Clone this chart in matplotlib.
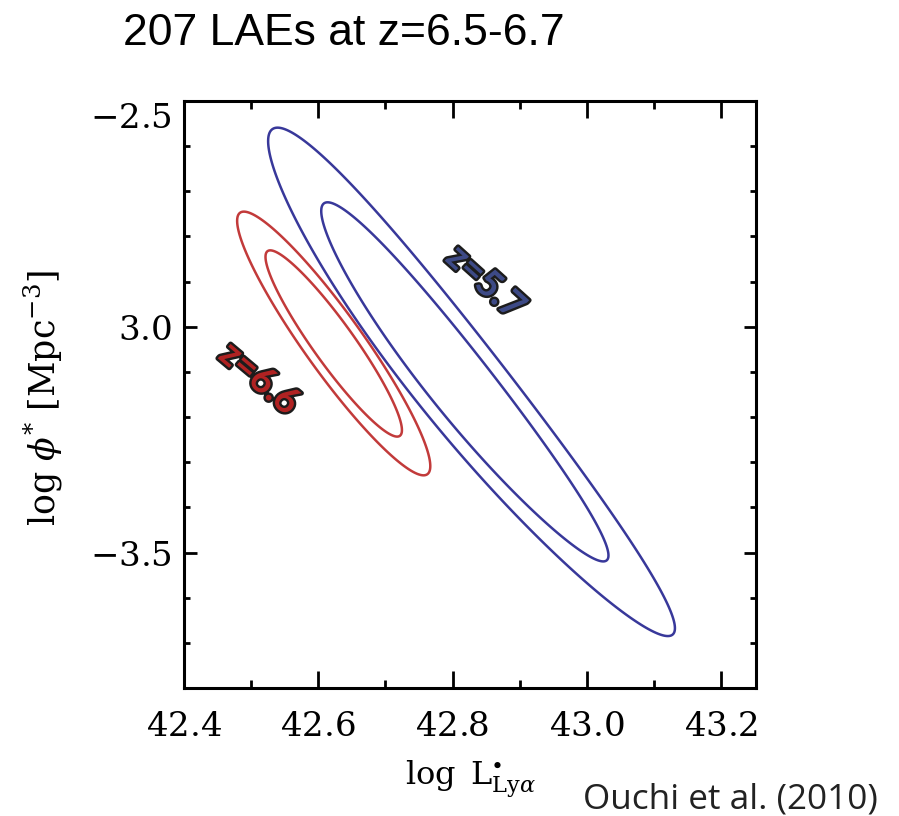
import numpy as np
import matplotlib
matplotlib.use('Agg')
import matplotlib.pyplot as plt
import matplotlib.patheffects as pe
import matplotlib.transforms as mtrans
from matplotlib.ticker import FixedLocator, MultipleLocator, FixedFormatter

plt.rcParams['mathtext.fontset'] = 'dejavuserif'

# ---------------- data ----------------
x_ticks = [42.4, 42.6, 42.8, 43.0, 43.2]
x_tick_labels = [r'$42.4$', r'$42.6$', r'$42.8$', r'$43.0$', r'$43.2$']
y_ticks = [-2.5, -3.0, -3.5]
y_tick_labels = [r'$-2.5$', r'$3.0$', r'$-3.5$']

samples = ['z=5.7', 'z=6.6']
center_logL = [42.830, 42.623]
center_logphi = [-3.122, -3.037]
sigma_logL = [0.1410, 0.0670]
sigma_logphi = [0.2622, 0.1360]
rho = [-0.96, -0.93]
bend_logL = [-0.0216, 0.0]          # curvature of the confidence region
conf_levels = [2.30, 4.61]          # delta chi^2: 68% and 90%
label_logL = [42.849, 42.512]
label_logphi = [-2.902, -3.115]
label_angle = [-42, -40]

line_colors = ['#38389a', '#c23a3a']
label_fill = ['#3d4a86', '#b02222']

# ---------------- figure ----------------
fig = plt.figure(figsize=(8.99, 8.16), dpi=100)
ax = fig.add_axes([184/899, (816-688)/816, (756-184)/899, (688-101)/816])

gx = np.linspace(42.3, 43.35, 800)
gy = np.linspace(-3.95, -2.35, 800)
GX, GY = np.meshgrid(gx, gy)
for i in range(len(samples)):
    ry = sigma_logphi[i] * np.sqrt(conf_levels[-1])
    shift = bend_logL[i] * (1 - ((GY - center_logphi[i]) / ry) ** 2)
    dx = (GX - shift - center_logL[i]) / sigma_logL[i]
    dy = (GY - center_logphi[i]) / sigma_logphi[i]
    r = rho[i]
    chi2 = (dx**2 - 2*r*dx*dy + dy**2) / (1 - r**2)
    ax.contour(GX, GY, chi2, levels=conf_levels, colors=line_colors[i], linewidths=1.8)
    ax.text(label_logL[i], label_logphi[i], samples[i], rotation=label_angle[i],
            ha='center', va='center', fontsize=27, fontweight='bold',
            family=['Lato', 'DejaVu Sans'], color=label_fill[i],
            path_effects=[pe.Stroke(linewidth=3.5, foreground='#1c1c1c'), pe.Normal()])

ax.set_xlim(42.4, 43.252)
ax.set_ylim(-3.8, -2.5)

ax.xaxis.set_major_locator(FixedLocator(x_ticks))
ax.xaxis.set_major_formatter(FixedFormatter(x_tick_labels))
ax.xaxis.set_minor_locator(MultipleLocator(0.1))
ax.yaxis.set_major_locator(FixedLocator(y_ticks))
ax.yaxis.set_major_formatter(FixedFormatter(y_tick_labels))
ax.yaxis.set_minor_locator(MultipleLocator(0.1))

ax.tick_params(axis='x', which='major', direction='in', length=12, width=2,
               top=True, bottom=True, pad=16, labelsize=24.5)
ax.tick_params(axis='x', which='minor', direction='in', length=6, width=2,
               top=True, bottom=True)
ax.tick_params(axis='y', which='major', direction='in', length=9, width=2,
               left=True, right=True, pad=9, labelsize=24.5)
ax.tick_params(axis='y', which='minor', direction='in', length=4.5, width=2,
               left=True, right=True)
for s in ax.spines.values():
    s.set_linewidth(2.2)

# shift the top y tick label down as in the reference
lab = ax.get_yticklabels()[0]
lab.set_transform(lab.get_transform() + mtrans.ScaledTranslation(0, -14/100, fig.dpi_scale_trans))

ax.set_xlabel(r'$\log\ \mathrm{L}^{\bullet}_{\mathrm{Ly}\alpha}$', fontsize=23, labelpad=11)
ax.set_ylabel(r'$\log\,\phi^{*}\ [\mathrm{Mpc}^{-3}]$', fontsize=25)
ax.yaxis.set_label_coords((65-184)/572, 0.494)

fig.text(123/899, 1 - 45/816, '207 LAEs at z=6.5-6.7', fontsize=32,
         family='Liberation Sans', ha='left', va='baseline')
fig.text(583/899, 1 - 808/816, 'Ouchi et al. (2010)', fontsize=25.3,
         family='Open Sans', ha='left', va='baseline', color='#222222')

fig.savefig('out.png', dpi=100)
